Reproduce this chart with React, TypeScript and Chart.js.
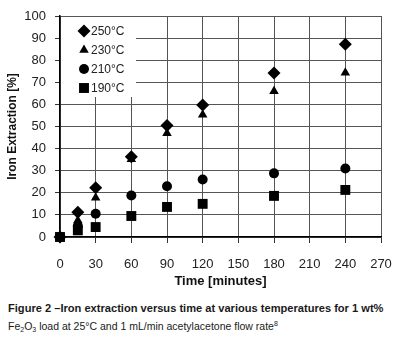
import React, { useEffect, useRef } from "react";
import { Chart, registerables } from "chart.js";
import { drawPoint } from "chart.js/helpers";

Chart.register(...registerables);

const times = [0, 15, 30, 60, 90, 120, 180, 240];
const labels250 = "250°C";
const labels230 = "230°C";
const labels210 = "210°C";
const labels190 = "190°C";
const series250 = [0, 11.2, 22.3, 36.3, 50.5, 59.7, 74.2, 87.2];
const series230 = [0, 7.5, 17.8, 35.2, 47, 55.3, 66, 74.3];
const series210 = [0, 5, 10.5, 18.8, 23, 26, 28.8, 31];
const series190 = [0, 3, 4.5, 9.5, 13.6, 15, 18.6, 21.3];
const xTicks = [0, 30, 60, 90, 120, 150, 180, 210, 240, 270];
const yTicks = [0, 10, 20, 30, 40, 50, 60, 70, 80, 90, 100];

const toPoints = (vals: number[]) => vals.map((v, i) => ({ x: times[i], y: v }));

const insetLegend = {
  id: "insetLegend",
  beforeDatasetsDraw(chart: any) {
    const { ctx, chartArea } = chart;
    ctx.save();
    ctx.fillStyle = "#ffffff";
    ctx.fillRect(chartArea.left + 1, chartArea.top + 1, 75, 80);
    ctx.font = "12px 'Liberation Sans', Arial, sans-serif";
    ctx.textBaseline = "middle";
    ctx.textAlign = "left";
    chart.data.datasets.forEach((ds: any, i: number) => {
      const y = chartArea.top + 15 + i * 19;
      const x = chartArea.left + 24;
      ctx.fillStyle = "#000";
      ctx.strokeStyle = "#000";
      drawPoint(
        ctx,
        { pointStyle: ds.pointStyle, radius: ds.pointRadius, rotation: 0, borderWidth: 0 },
        x,
        y
      );
      ctx.fillStyle = "#222";
      ctx.fillText(ds.label, x + 7, y + 1);
    });
    ctx.restore();
  },
};

export default function App() {
  const ref = useRef<HTMLCanvasElement | null>(null);
  useEffect(() => {
    document.body.style.margin = "0";
    const common = { backgroundColor: "#000", borderColor: "#000", borderWidth: 0, clip: false as any };
    const chart = new Chart(ref.current as HTMLCanvasElement, {
      type: "scatter",
      data: {
        datasets: [
          { label: labels250, data: toPoints(series250), pointStyle: "rectRot", pointRadius: 6.5, ...common },
          { label: labels230, data: toPoints(series230), pointStyle: "triangle", pointRadius: 5.5, ...common },
          { label: labels210, data: toPoints(series210), pointStyle: "circle", pointRadius: 5, ...common },
          { label: labels190, data: toPoints(series190), pointStyle: "rect", pointRadius: 7, ...common },
        ],
      },
      options: {
        animation: false,
        responsive: false,
        layout: { padding: { left: 0, top: 16, right: 16, bottom: 0 } },
        plugins: { legend: { display: false }, tooltip: { enabled: false } },
        scales: {
          x: {
            type: "linear",
            min: 0,
            max: 270,
            afterBuildTicks: (s: any) => { s.ticks = xTicks.map((v) => ({ value: v })); },
            afterFit: (s: any) => { s.height = 53; s.paddingLeft = 0; s.paddingRight = 0; },
            ticks: { color: "#222", font: { size: 13, family: "'Liberation Sans', Arial, sans-serif" }, padding: 14, maxRotation: 0 },
            grid: { color: "#555", lineWidth: 1, tickLength: 6, tickColor: "#333" },
            border: { color: "#000", width: 1.5 },
            title: { display: true, text: "Time [minutes]", color: "#111", padding: { top: 0, bottom: 1 }, font: { size: 13, weight: "bold", family: "'Liberation Sans', Arial, sans-serif" } },
          },
          y: {
            min: 0,
            max: 100,
            afterBuildTicks: (s: any) => { s.ticks = yTicks.map((v) => ({ value: v })); },
            afterFit: (s: any) => { s.width = 60; s.paddingTop = 0; s.paddingBottom = 0; },
            ticks: { color: "#222", font: { size: 13, family: "'Liberation Sans', Arial, sans-serif" }, padding: 9 },
            grid: { color: "#555", lineWidth: 1, tickLength: 5, tickColor: "#333" },
            border: { color: "#000", width: 1.5 },
            title: { display: true, text: "Iron Extraction [%]", color: "#111", padding: { top: 5, bottom: 0 }, font: { size: 12, weight: "bold", family: "'Liberation Sans', Arial, sans-serif" } },
          },
        },
      },
      plugins: [insetLegend],
    });
    return () => chart.destroy();
  }, []);

  return (
    <div style={{ position: "relative", width: 397, height: 337, background: "#fff" }}>
      <canvas ref={ref} width={397} height={290} style={{ display: "block" }} />
      <div
        style={{
          position: "absolute",
          left: 8,
          top: 300,
          fontFamily: "'Liberation Sans', Arial, sans-serif",
          fontSize: 10.5,
          lineHeight: "16px",
          color: "#1a1a1a",
          whiteSpace: "nowrap",
        }}
      >
        <div style={{ fontWeight: "bold", fontSize: 11.1 }}>
          Figure 2 –Iron extraction versus time at various temperatures for 1 wt%
        </div>
        <div>
          Fe<sub style={{ fontSize: 7, verticalAlign: "-2px" }}>2</sub>O<sub style={{ fontSize: 7, verticalAlign: "-2px" }}>3</sub> load at 25°C and 1 mL/min acetylacetone flow rate<sup style={{ fontSize: 7, verticalAlign: "4px" }}>8</sup>
        </div>
      </div>
    </div>
  );
}
